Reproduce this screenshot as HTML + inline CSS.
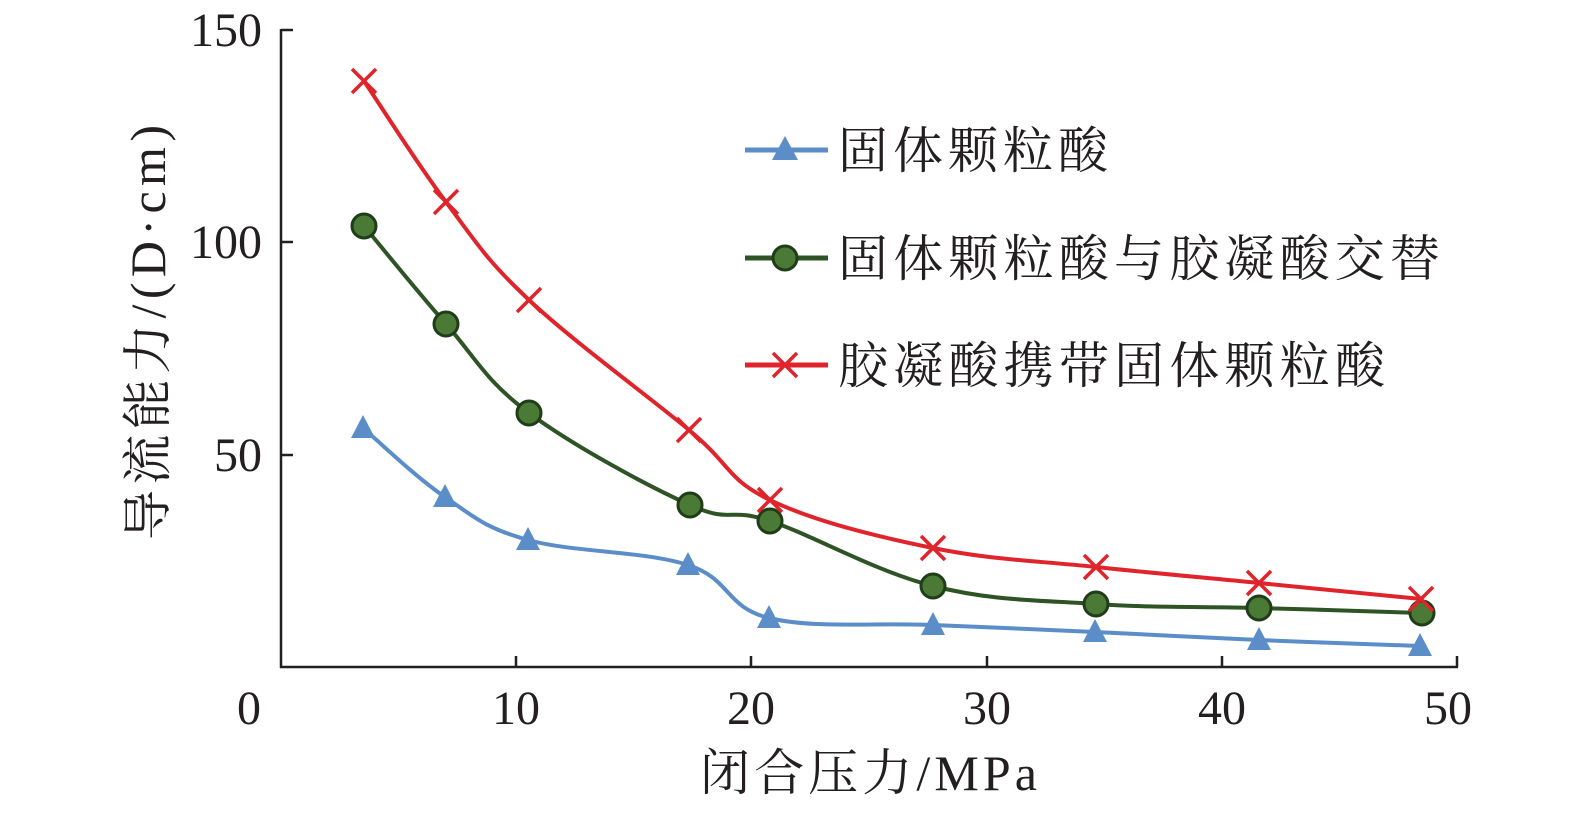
<!DOCTYPE html>
<html><head><meta charset="utf-8">
<style>
html,body{margin:0;padding:0;background:#fff;}
svg text{font-family:"Liberation Serif","Noto Serif CJK SC","Noto Sans CJK SC",serif;fill:#231f20;}
</style></head>
<body>
<svg id="s" width="1575" height="813" viewBox="0 0 1575 813" xmlns="http://www.w3.org/2000/svg">
<g stroke="#231f20" stroke-width="2.5" fill="none">
<line x1="281" y1="29" x2="281" y2="668"/>
<line x1="280" y1="667" x2="1458" y2="667"/>
<line x1="281" y1="30" x2="293" y2="30"/>
<line x1="281" y1="242" x2="293" y2="242"/>
<line x1="281" y1="455" x2="293" y2="455"/>
<line x1="516" y1="667" x2="516" y2="656"/>
<line x1="751" y1="667" x2="751" y2="656"/>
<line x1="987" y1="667" x2="987" y2="656"/>
<line x1="1222" y1="667" x2="1222" y2="656"/>
<line x1="1457" y1="667" x2="1457" y2="656"/>
</g>
<g font-size="48" text-anchor="end">
<text x="262" y="46">150</text>
<text x="262" y="258">100</text>
<text x="262" y="471">50</text>
</g>
<g font-size="48" text-anchor="middle">
<text x="249" y="724">0</text>
<text x="516" y="724">10</text>
<text x="751" y="724">20</text>
<text x="987" y="724">30</text>
<text x="1222" y="724">40</text>
<text x="1448" y="724">50</text>
</g>
<text x="700" y="790" font-size="50" letter-spacing="3" textLength="340" lengthAdjust="spacing">闭合压力/MPa</text>
<text font-size="50" textLength="415" lengthAdjust="spacing" transform="translate(165,540) rotate(-90)">导流能力/(D·cm)</text>
<g id="series"></g>
<g font-size="50">
<line x1="745" y1="150" x2="828" y2="150" stroke="#5b8ec9" stroke-width="5"/>
<polygon points="785,136 772,160 798,160" fill="#5b8ec9"/>
<text x="838" y="168" textLength="270" lengthAdjust="spacing">固体颗粒酸</text>
<line x1="745" y1="258" x2="828" y2="258" stroke="#2e5426" stroke-width="5"/>
<circle cx="785" cy="258" r="12" fill="#4a7a35" stroke="#1f3d18" stroke-width="3"/>
<text x="838" y="276" textLength="602" lengthAdjust="spacing">固体颗粒酸与胶凝酸交替</text>
<line x1="745" y1="365" x2="828" y2="365" stroke="#e0242b" stroke-width="5"/>
<g stroke="#e0242b" stroke-width="3.5"><line x1="773" y1="353" x2="797" y2="377"/><line x1="797" y1="353" x2="773" y2="377"/></g>
<text x="838" y="383" textLength="547" lengthAdjust="spacing">胶凝酸携带固体颗粒酸</text>
</g>
</svg>
<script>
var S=[
{c:"#5b8ec9",m:"t",p:[[363,428],[445,497],[528,540],[688,565],[769,618],[933,625],[1095,632],[1259,640],[1420,646]]},
{c:"#2e5426",m:"c",p:[[364,226],[446,324],[529,413],[690,505],[770,521],[933,586],[1096,604],[1259,608],[1422,613]]},
{c:"#e0242b",m:"x",p:[[364,81],[446,202],[529,300],[689,430],[770,500],[933,548],[1096,567],[1259,583],[1421,599]]}];
var g=document.getElementById("series"),h="";
S.forEach(function(s){var p=s.p,d="M"+p[0][0]+","+p[0][1];
for(var i=0;i<p.length-1;i++){var a=p[i-1]||p[i],b=p[i],c=p[i+1],e=p[i+2]||c,t=0.18;
d+=" C"+(b[0]+(c[0]-a[0])*t)+","+(b[1]+(c[1]-a[1])*t)+" "+(c[0]-(e[0]-b[0])*t)+","+(c[1]-(e[1]-b[1])*t)+" "+c[0]+","+c[1];}
h+='<path d="'+d+'" fill="none" stroke="'+s.c+'" stroke-width="4"/>';
p.forEach(function(q){var x=q[0],y=q[1];
if(s.m=="t")h+='<polygon points="'+x+','+(y-13)+' '+(x-12)+','+(y+10)+' '+(x+12)+','+(y+10)+'" fill="#5b8ec9"/>';
else if(s.m=="c")h+='<circle cx="'+x+'" cy="'+y+'" r="12" fill="#4a7a35" stroke="#1f3d18" stroke-width="3"/>';
else h+='<g stroke="#e0242b" stroke-width="3.5"><line x1="'+(x-12)+'" y1="'+(y-12)+'" x2="'+(x+12)+'" y2="'+(y+12)+'"/><line x1="'+(x+12)+'" y1="'+(y-12)+'" x2="'+(x-12)+'" y2="'+(y+12)+'"/></g>';});});
g.innerHTML=h;
</script>
</body></html>
